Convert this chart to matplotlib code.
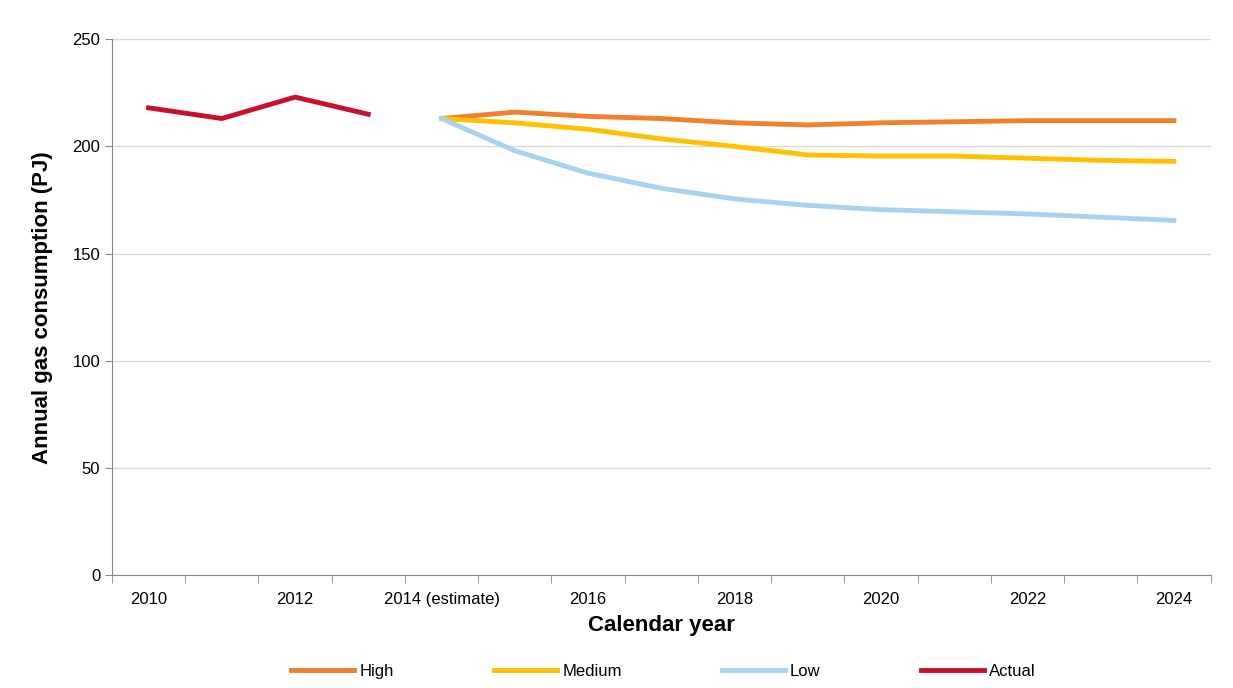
import matplotlib.pyplot as plt
import numpy as np

years = list(range(2010, 2025))
tick_labels = ["2010", "", "2012", "", "2014 (estimate)", "", "2016", "", "2018", "",
               "2020", "", "2022", "", "2024"]
actual = [218, 213, 223, 215] + [np.nan] * 11
high = [np.nan] * 4 + [213, 216, 214, 213, 211, 210, 211, 211.5, 212, 212, 212]
medium = [np.nan] * 4 + [213, 211, 208, 203.5, 200, 196, 195.5, 195.5, 194.5, 193.5, 193]
low = [np.nan] * 4 + [213, 198, 187.5, 180.5, 175.5, 172.5, 170.5, 169.5, 168.5, 167, 165.5]

plt.rcParams["font.family"] = ["Liberation Sans", "DejaVu Sans"]
fig = plt.figure(figsize=(12.33, 6.88), dpi=100)
ax = fig.add_axes([0.0908, 0.164, 0.891, 0.779])
x = np.arange(len(years))
ax.plot(x, high, color="#f07f2e", lw=3.5, label="High")
ax.plot(x, medium, color="#ffc000", lw=3.5, label="Medium")
ax.plot(x, low, color="#a9d2ef", lw=3.5, label="Low")
ax.plot(x, actual, color="#c8102e", lw=3.5, label="Actual")

ax.set_xlim(-0.5, len(years) - 0.5)
ax.set_ylim(0, 250)
ax.set_yticks(range(0, 251, 50))
ax.set_xticks(x)
ax.set_xticklabels(tick_labels, fontsize=12)
ax.set_xticks(np.arange(-0.5, len(years), 1), minor=True)
ax.tick_params(axis="x", which="major", length=0, pad=12)
ax.tick_params(axis="x", which="minor", length=6, color="#888888")
ax.tick_params(axis="y", labelsize=12, length=5, color="#888888")
ax.grid(axis="y", color="#d9d9d9", lw=1)
ax.set_axisbelow(True)
for s in ["top", "right"]:
    ax.spines[s].set_visible(False)
ax.spines["left"].set_color("#888888")
ax.spines["bottom"].set_color("#888888")
ax.set_xlabel("Calendar year", fontsize=16, fontweight="bold", labelpad=6)
ax.set_ylabel("Annual gas consumption (PJ)", fontsize=16, fontweight="bold", labelpad=14)
fig.legend(loc="lower center", ncol=4, frameon=False, fontsize=12,
           bbox_to_anchor=(0.538, -0.008), handlelength=3.8, columnspacing=6.0,
           handletextpad=0.3)
fig.savefig("out.png", dpi=100)
